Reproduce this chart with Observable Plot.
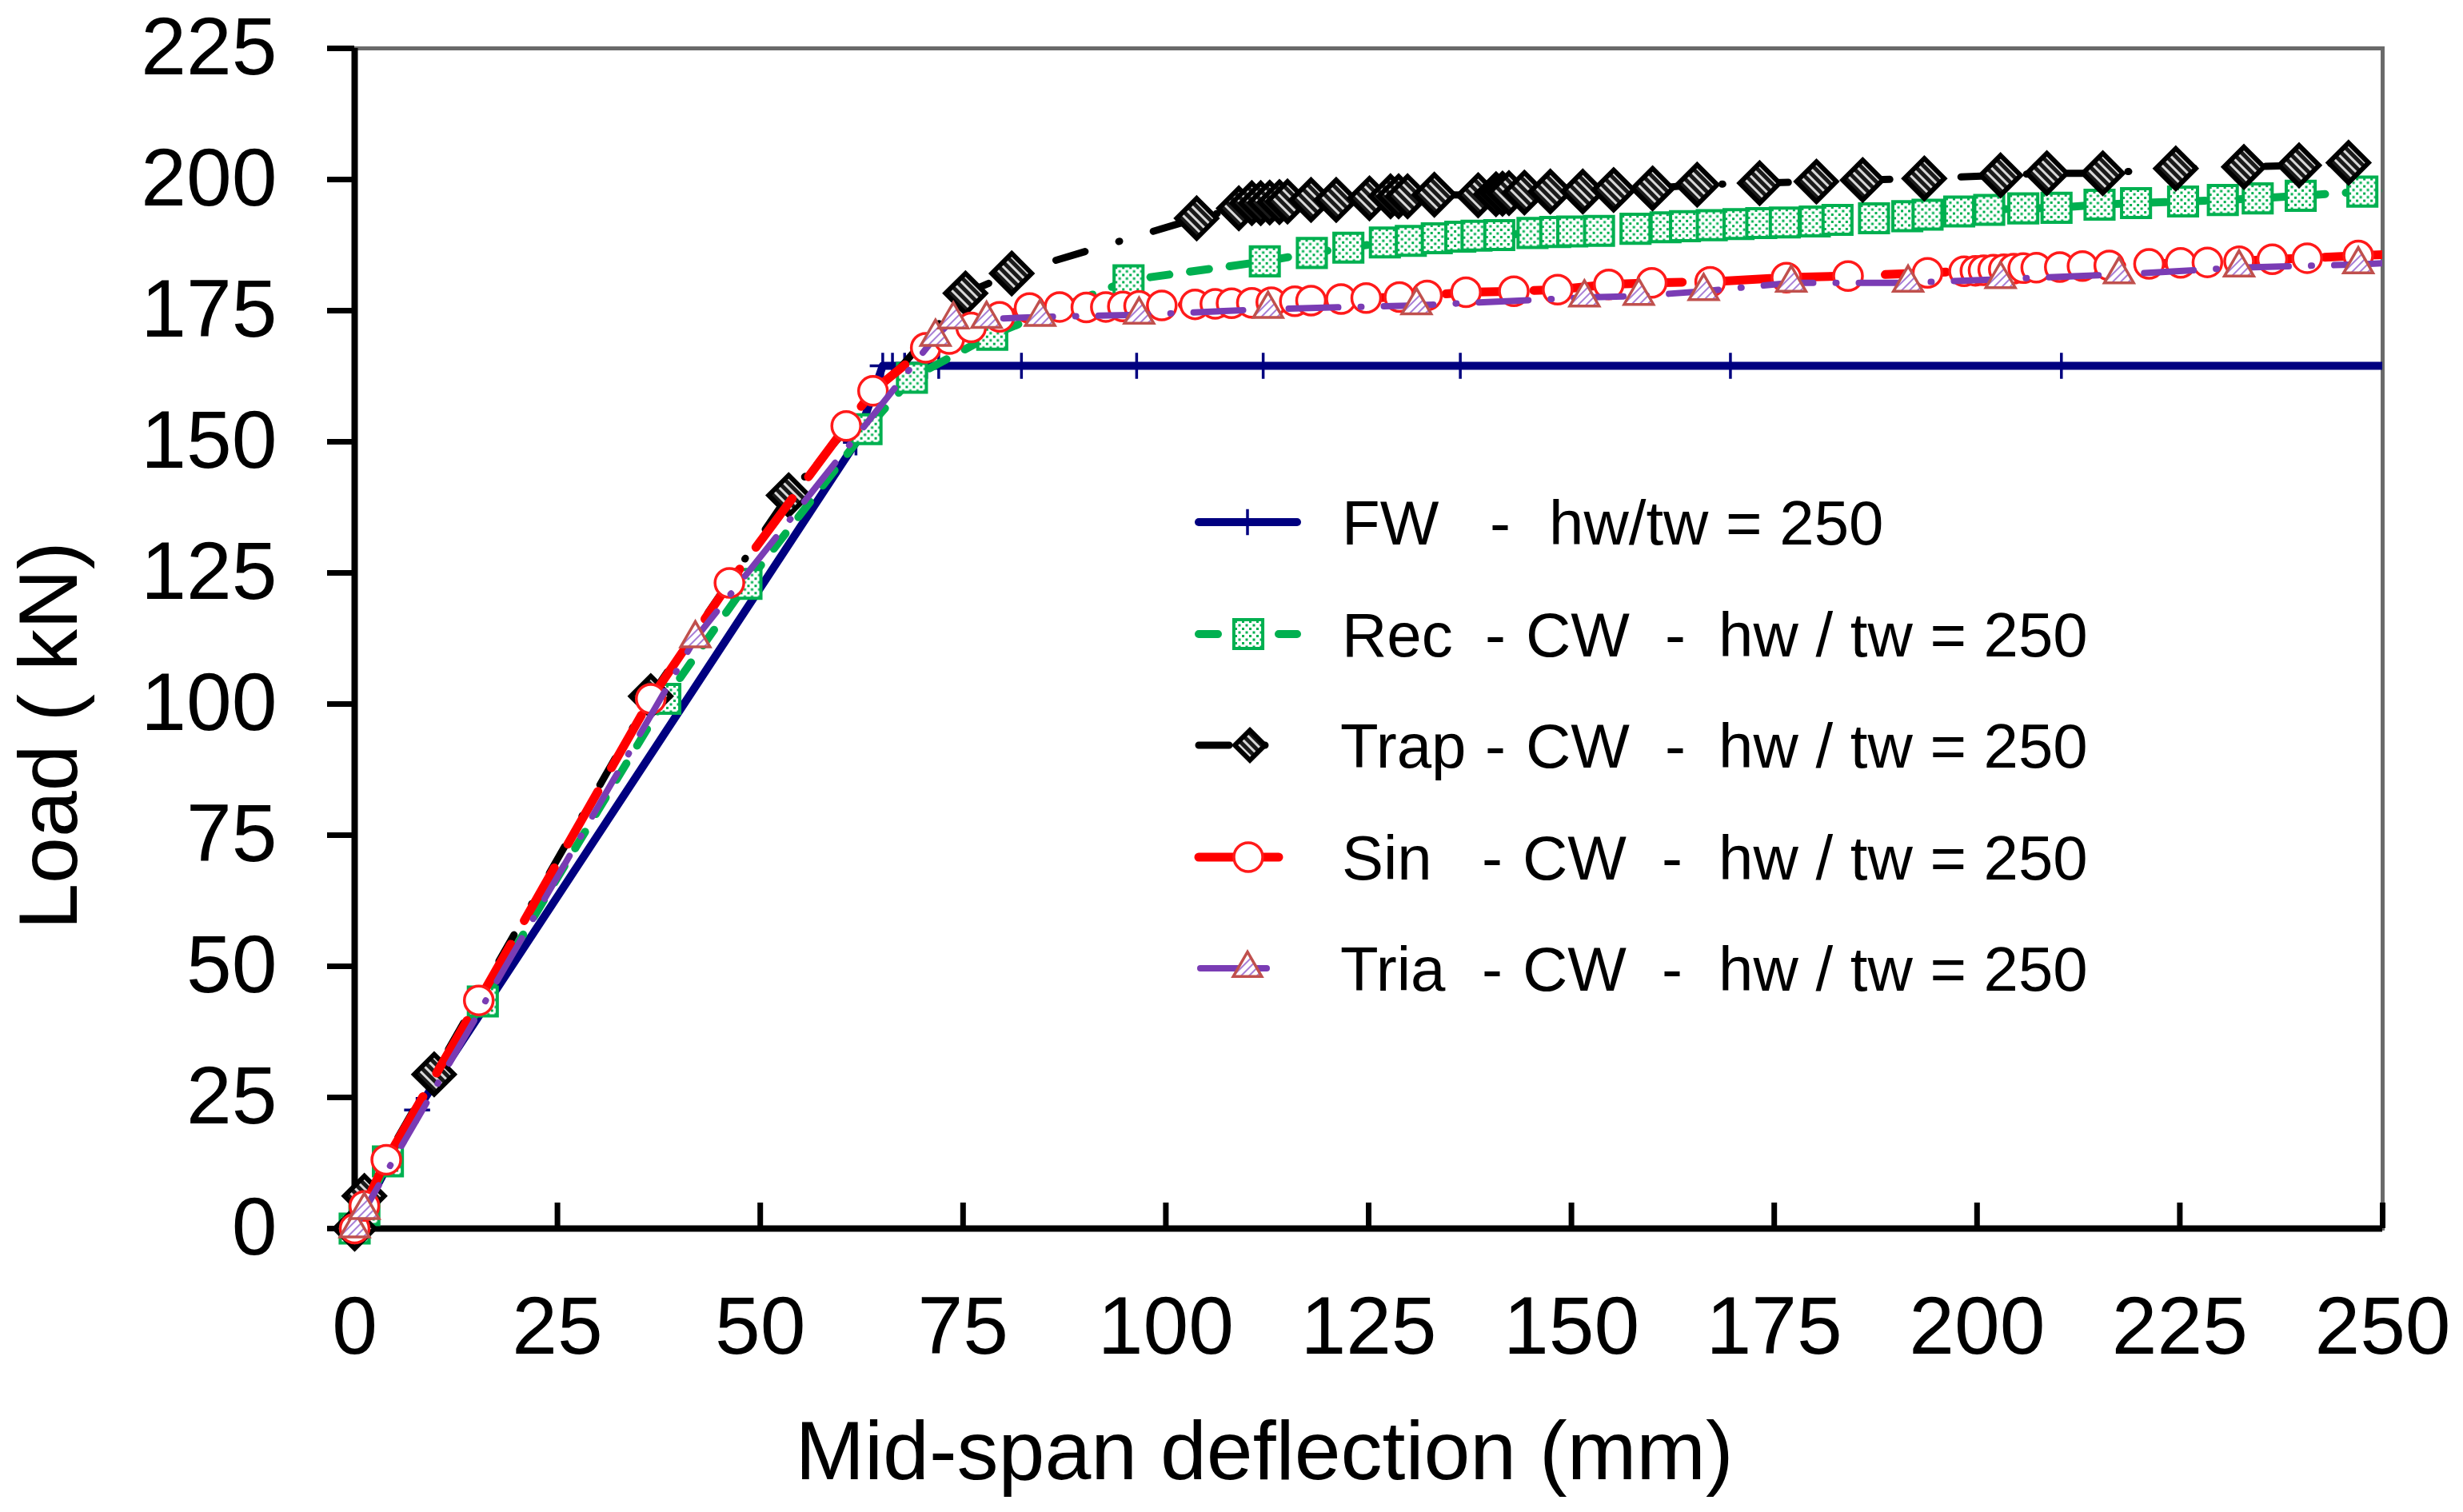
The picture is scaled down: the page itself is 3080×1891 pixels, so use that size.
<!DOCTYPE html>
<html>
<head>
<meta charset="utf-8">
<script src="https://cdn.jsdelivr.net/npm/d3@7"></script>
<script src="https://cdn.jsdelivr.net/npm/@observablehq/plot@0.6"></script>
<style>
  body { margin: 0; background: #fff; }
  #chart svg { display: block; }
</style>
</head>
<body>
<div id="chart"></div>
<script>
// Load vs mid-span deflection
const xTicks = [0, 25, 50, 75, 100, 125, 150, 175, 200, 225, 250]
const yTicks = [0, 25, 50, 75, 100, 125, 150, 175, 200, 225]

const fwX = [0, 7.7, 61.8, 65.1, 66.3, 67.8, 70.5, 72, 82.2, 96.4, 112, 136.3, 169.6, 210.4, 252]
const fwY = [0, 22.6, 149.9, 164.5, 164.5, 164.5, 164.5, 164.5, 164.5, 164.5, 164.5, 164.5, 164.5, 164.5, 164.5]

const recX = [0, 1.2, 4.1, 15.8, 38.3, 48.3, 63.1, 68.7, 78.6, 95.4,
  112.2, 118, 122.5, 127, 130.2, 133.4, 136.3, 138.3, 141.1, 145.2,
  148, 150.1, 153.4, 157.9, 161.6, 164, 167.3, 170.6, 173.4, 176.3,
  180, 182.8, 187.3, 191.4, 193.9, 197.8, 201.5, 205.7, 209.8, 215.1,
  219.6, 225.4, 230.3, 234.6, 239.9, 247.5, 252]
const recY = [0, 3.5, 12.8, 43.3, 101, 122.9, 152.4, 162.2, 170.4, 180.8,
  184.4, 186, 187, 188, 188.3, 188.8, 189.1, 189.3, 189.4, 189.8,
  190, 190.1, 190.2, 190.6, 190.9, 191.1, 191.3, 191.5, 191.7, 191.8,
  192, 192.3, 192.6, 193, 193.3, 193.9, 194.2, 194.5, 194.6, 195.2,
  195.5, 195.8, 196.1, 196.4, 196.9, 197.7, 198]

const trapX = [0, 1.2, 9.8, 36.5, 53.5, 75.3, 81, 103.8, 109, 110.6,
  111.7, 112.8, 114, 115, 117.9, 121, 125.1, 127.7, 128.7, 129.8,
  133.1, 138.5, 140.7, 141.5, 142.3, 144.2, 147.4, 151.4, 155.2, 160,
  165.5, 173.2, 180.2, 185.9, 193.5, 202.9, 208.6, 215.5, 224.5, 232.9,
  239.7, 245.8]
const trapY = [0, 6.2, 29.4, 101.5, 139.8, 178.3, 182.1, 192.6, 194.5, 195.5,
  195.5, 195.6, 195.7, 195.8, 196.1, 196.1, 196.4, 196.8, 196.8, 196.8,
  197.1, 197, 197.2, 197.3, 197.4, 197.5, 197.7, 197.7, 198, 198.3,
  199, 199.3, 199.6, 199.9, 200.2, 200.8, 201.2, 201.2, 202.1, 202.4,
  202.7, 203.2]

const sinX = [0, 1.2, 3.9, 15.3, 36.5, 46.2, 60.6, 63.9, 70.4, 73.3,
  76, 79.5, 83.2, 86.9, 90.2, 92.6, 94.7, 96.7, 99.5, 103.6,
  106.1, 108.1, 110.6, 113, 115.9, 117.9, 121.6, 124.7, 128.8, 132.2,
  137, 142.9, 148.3, 154.6, 159.9, 167.1, 176.5, 184.1, 193.9, 198.4,
  199.8, 200.8, 202, 203.3, 204.5, 205.7, 207.3, 210.2, 213, 216.3,
  221.2, 225.1, 228.4, 232.3, 236.4, 240.7, 247, 252]
const sinY = [0, 4.3, 13.1, 43.5, 101, 123.1, 153, 159.7, 167.9, 169.6,
  171.8, 173.8, 175.5, 175.7, 175.6, 175.7, 175.8, 175.9, 176, 176.2,
  176.3, 176.4, 176.5, 176.6, 176.8, 176.9, 177.2, 177.4, 177.6, 177.9,
  178.5, 178.7, 179, 180, 180.3, 180.5, 181.3, 181.6, 182.2, 182.5,
  182.6, 182.7, 182.8, 182.9, 183, 183.1, 183.2, 183.3, 183.5, 183.6,
  183.9, 184.1, 184.2, 184.4, 184.8, 185, 185.5, 185.8]

const triaX = [0, 1.2, 42, 71.6, 73.8, 77.9, 84.5, 96.7, 112.6, 130.9,
  151.6, 158.3, 166.3, 177.1, 191.5, 202.9, 217.5, 232.3, 247, 252]
const triaY = [0, 3.5, 112.5, 170, 173.3, 173.4, 173.8, 174.2, 175.3, 176,
  177.5, 177.8, 178.7, 180.3, 180.3, 181, 181.9, 183.2, 183.8, 184.2]

const legendNames = ['FW', 'Rec', 'Trap', 'Sin', 'Tria']

const rows = (xs, ys) => xs.map((x, i) => ({x, y: ys[i]}))

const font = '"Liberation Sans", Arial, Helvetica, sans-serif'

const series = [
  {name: 'FW', data: rows(fwX, fwY), color: '#000080', width: 10, dash: null,
   symbol: 'plus', r: 10.5, fill: 'none', mStroke: '#000080', mWidth: 3.5},
  {name: 'Rec', data: rows(recX, recY), color: '#00b050', width: 10, dash: '24,26',
   symbol: 'square2', r: 23, fill: 'url(#recFill)', mStroke: '#00b050', mWidth: 4},
  {name: 'Trap', data: rows(trapX, trapY), color: '#000', width: 9, dash: '38,44,1,44',
   symbol: 'diamond2', r: 22.5, fill: 'url(#trapFill)', mStroke: '#000', mWidth: 6},
  {name: 'Sin', data: rows(sinX, sinY), color: '#ff0000', width: 11, dash: '76,34',
   symbol: 'circle', r: 18, fill: '#fff', mStroke: '#ff1a1a', mWidth: 3.5},
  {name: 'Tria', data: rows(triaX, triaY), color: '#7a3cb4', width: 8, dash: '62,28,1,28',
   symbol: 'triangle2', r: 17.5, fill: 'url(#triaFill)', mStroke: '#c0504d', mWidth: 3.5},
]

const W = 3080, H = 1891
const mL = 443, mR = 101, mT = 60, mB = 355

const chart = Plot.plot({
  width: W,
  height: H,
  marginLeft: mL,
  marginRight: mR,
  marginTop: mT,
  marginBottom: mB,
  style: {fontFamily: font, fontSize: '102px', background: '#fff', color: '#000'},
  x: {domain: [0, 250]},
  y: {domain: [0, 225]},
  marks: [
    Plot.frame({stroke: '#6a6a6a', strokeWidth: 5}),
    Plot.axisY(yTicks, {tickSize: 34, tickPadding: 63, strokeWidth: 7, label: null, fontSize: 102}),
    Plot.axisX(xTicks, {tickSize: 0, tickPadding: 84, label: null, fontSize: 102}),
    Plot.tickX(xTicks, {x: d => d, insetTop: H - mT - mB - 32, strokeWidth: 7}),
    Plot.ruleX([0], {strokeWidth: 8}),
    Plot.ruleY([0], {strokeWidth: 8}),
    ...series.flatMap(s => [
      Plot.line(s.data, {x: 'x', y: 'y', stroke: s.color, strokeWidth: s.width,
        strokeDasharray: s.dash, clip: true}),
      Plot.dot(s.data, {x: 'x', y: 'y', symbol: s.symbol, r: s.r, fill: s.fill,
        stroke: s.mStroke, strokeWidth: s.mWidth, filter: d => d.x <= 250}),
    ]),
  ],
})

const svg = d3.select(chart)

// marker fills
const defs = svg.insert('defs', ':first-child')
const rec = defs.append('pattern').attr('id', 'recFill')
  .attr('patternUnits', 'userSpaceOnUse').attr('width', 9).attr('height', 9)
rec.append('rect').attr('width', 9).attr('height', 9).attr('fill', '#fff')
rec.append('rect').attr('x', 1).attr('y', 1).attr('width', 3).attr('height', 3).attr('fill', '#00b050')
rec.append('rect').attr('x', 5.5).attr('y', 5.5).attr('width', 3).attr('height', 3).attr('fill', '#00b050')

const trap = defs.append('pattern').attr('id', 'trapFill')
  .attr('patternUnits', 'userSpaceOnUse').attr('width', 8).attr('height', 8)
  .attr('patternTransform', 'rotate(45)')
trap.append('rect').attr('width', 8).attr('height', 8).attr('fill', '#1a1a1a')
trap.append('rect').attr('width', 8).attr('height', 3).attr('fill', '#d8d8d8')

const tria = defs.append('pattern').attr('id', 'triaFill')
  .attr('patternUnits', 'userSpaceOnUse').attr('width', 7).attr('height', 7)
  .attr('patternTransform', 'rotate(-45)')
tria.append('rect').attr('width', 7).attr('height', 7).attr('fill', '#fff')
tria.append('rect').attr('width', 7).attr('height', 2).attr('fill', '#a77fd6')

// axis titles
svg.append('text')
  .attr('x', 1581).attr('y', 1850)
  .attr('text-anchor', 'middle')
  .attr('font-family', font).attr('font-size', 104)
  .text('Mid-span deflection (mm)')

svg.append('text')
  .attr('transform', 'translate(96,920) rotate(-90)')
  .attr('text-anchor', 'middle')
  .attr('font-family', font).attr('font-size', 104)
  .text('Load ( kN)')

// legend inside the plot area
const legendRows = [
  {y: 653, x1: 1499, x2: 1622, mx: 1560, mr: 10.5, parts: [[legendNames[0], 1678], ['-', 1863], ['hw/tw = 250', 1937]]},
  {y: 793, x1: 1499, x2: 1622, mx: 1561, mr: 23, parts: [[legendNames[1], 1678], ['-', 1857], ['CW', 1908], ['-', 2082], ['hw / tw = 250', 2149]]},
  {y: 932, x1: 1499, x2: 1597, mx: 1563, mr: 17, parts: [[legendNames[2], 1676], ['-', 1857], ['CW', 1908], ['-', 2082], ['hw / tw = 250', 2149]]},
  {y: 1072, x1: 1499, x2: 1599, mx: 1561, mr: 18, parts: [[legendNames[3], 1678], ['-', 1853], ['CW', 1904], ['-', 2078], ['hw / tw = 250', 2149]]},
  {y: 1211, x1: 1501, x2: 1584, mx: 1560, mr: 17, parts: [[legendNames[4], 1676], ['-', 1853], ['CW', 1904], ['-', 2078], ['hw / tw = 250', 2149]]},
]

const symbolTypes = {plus: d3.symbolPlus, square2: d3.symbolSquare2, diamond2: d3.symbolDiamond2,
  circle: d3.symbolCircle, triangle2: d3.symbolTriangle2}

const lg = svg.append('g').attr('text-anchor', 'start')
legendRows.forEach((row, i) => {
  const s = series[i]
  lg.append('line')
    .attr('x1', row.x1).attr('x2', row.x2).attr('y1', row.y).attr('y2', row.y)
    .attr('stroke', s.color).attr('stroke-width', s.width)
    .attr('stroke-linecap', 'round')
    .attr('stroke-dasharray', s.name === 'Rec' ? '24,26' : s.name === 'Trap' ? '38,44,1,44' : null)
  lg.append('path')
    .attr('transform', `translate(${row.mx},${row.y})`)
    .attr('d', d3.symbol(symbolTypes[s.symbol], Math.PI * row.mr * row.mr)())
    .attr('fill', s.fill).attr('stroke', s.mStroke).attr('stroke-width', s.mWidth)
  const t = lg.append('text')
    .attr('y', row.y + 28)
    .attr('text-anchor', 'start')
    .attr('font-family', font).attr('font-size', 78)
  row.parts.forEach(([txt, x]) => t.append('tspan').attr('x', x).text(txt))
})

d3.select('#chart').append(() => chart)
</script>
</body>
</html>
